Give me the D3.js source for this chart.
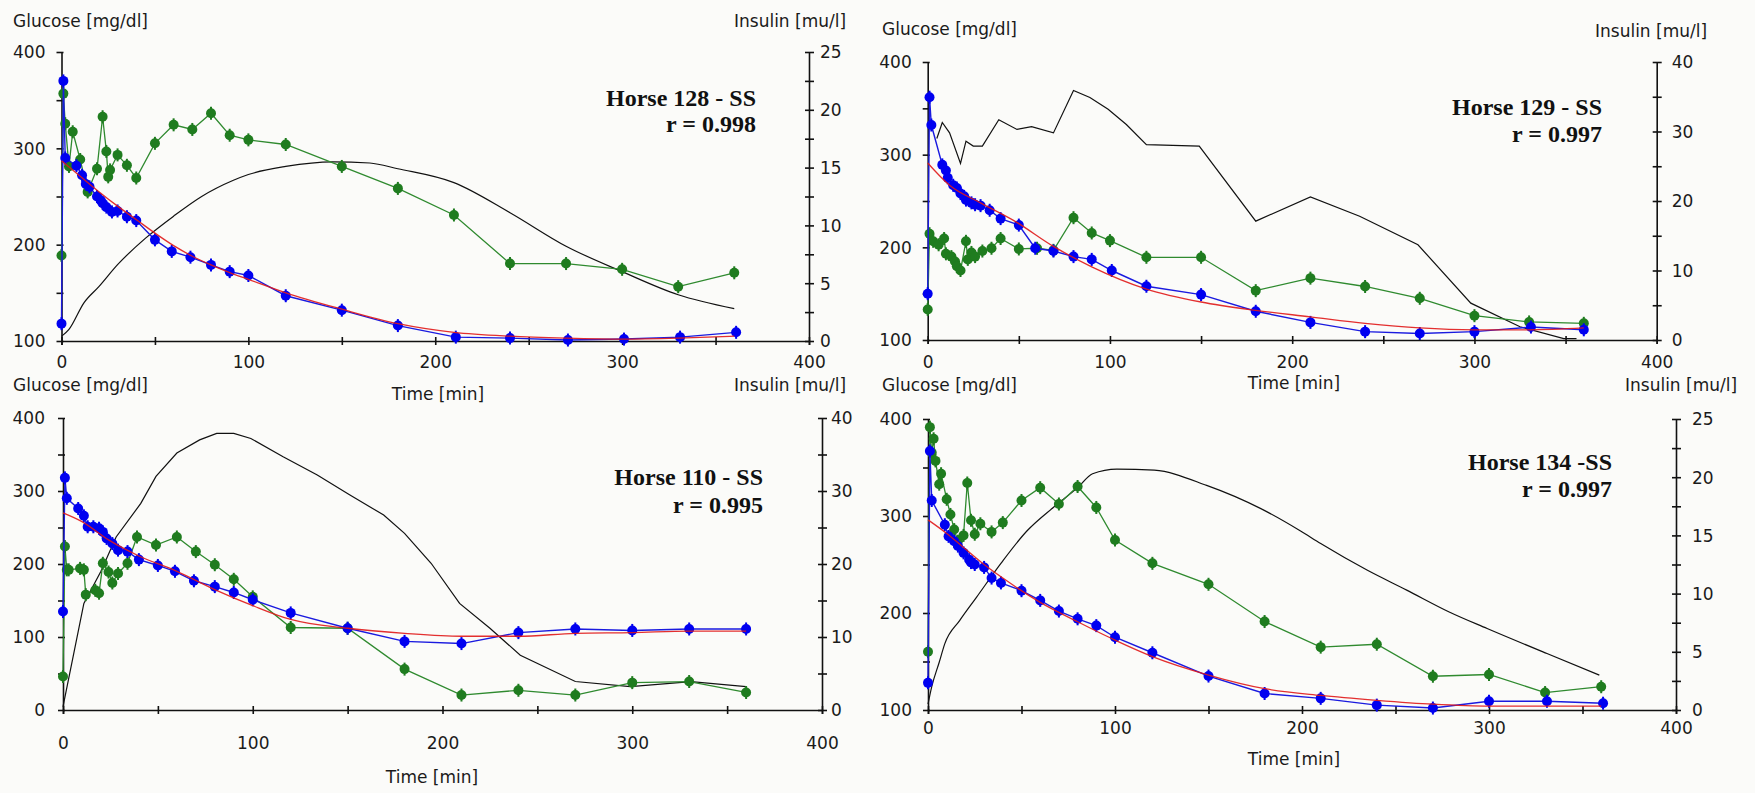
<!DOCTYPE html>
<html>
<head>
<meta charset="utf-8">
<script src="https://cdn.jsdelivr.net/npm/d3@7"></script>
<style>
  html, body { margin: 0; padding: 0; background: #fbfbf9; }
  svg { display: block; }
</style>
</head>
<body>
<svg id="chart" width="1755" height="793"></svg>
<script>
// ---------------- DATA ----------------
const horseTitles = ["Horse 128 - SS", "Horse 129 - SS", "Horse 110 - SS", "Horse 134 -SS"];
const rValues = ["r = 0.998", "r = 0.997", "r = 0.995", "r = 0.997"];
const timeTicks = [0, 50, 100, 150, 200, 250, 300, 350, 400];
const glucoseTicks100 = [100, 150, 200, 250, 300, 350, 400];
const glucoseTicks0 = [0, 50, 100, 150, 200, 250, 300, 350, 400];
const insulinTicks25 = [0, 2.5, 5, 7.5, 10, 12.5, 15, 17.5, 20, 22.5, 25];
const insulinTicks40 = [0, 5, 10, 15, 20, 25, 30, 35, 40];
const glucoseLabel = "Glucose [mg/dl]";
const insulinLabel = "Insulin [mu/l]";
const timeLabel = "Time [min]";

// Horse 128
const h128GreenT = [0,1,2,4,6,10,14,19,22,24,25,26,30,35,40,50,60,70,80,90,100,120,150,180,210,240,270,300,330,360];
const h128GreenI = [7.4,21.4,18.8,15.1,18.1,15.7,12.9,14.9,19.4,16.4,14.2,14.8,16.1,15.2,14.1,17.1,18.7,18.3,19.7,17.8,17.4,17.0,15.1,13.2,10.9,6.7,6.7,6.2,4.7,5.9];
const h128BlackT = [0,4,12,20,30,45,60,75,92,100,120,145,165,180,210,240,270,300,330,360];
const h128BlackI = [0.4,1.0,3.3,4.7,6.6,8.9,10.8,12.5,13.9,14.4,15.1,15.5,15.4,14.9,13.7,11.1,8.2,6.0,4.0,2.8];
const h128BlueT = [0,1,2,8,11,13,15,19,21,22,24,27,30,35,40,50,59,69,80,90,100,120,150,180,211,240,271,301,331,361];
const h128BlueG = [118,370,290,282,272,263,260,250,246,243,239,234,235,229,225,205,193,187,179,172,168,147,132,116,104,103,101,102,104,109];
const h128RedT = [0,10,20,30,40,50,60,70,80,90,100,120,150,180,210,240,270,300,330,360];
const h128RedG = [287,271,255,240,226,212,199,188,179,171,164,150,133,118,109,105,103,102,103,105];

// Horse 129
const h129GreenT = [0,1,3,6,9,10,13,15,16,18,21,22,24,26,30,35,40,50,60,69,80,90,100,120,150,180,210,240,270,300,330,360];
const h129GreenI = [4.4,15.3,14.2,13.7,14.6,12.4,12.0,11.3,10.6,10.0,14.2,11.6,12.6,12.0,12.8,13.2,14.6,13.1,13.2,12.9,17.6,15.4,14.3,11.9,11.9,7.1,8.9,7.7,6.0,3.5,2.6,2.4];
const h129BlackT = [5,8,12,18,21,25,30,39,49,57,69,80,89,99,109,120,149,180,210,237,269,298,325,349,356];
const h129BlackI = [29.0,31.3,29.8,25.4,28.6,27.9,27.9,31.7,30.3,30.7,29.8,35.9,34.9,33.2,31.0,28.1,27.9,17.1,20.6,17.8,13.7,5.3,1.9,0.2,0.2];
const h129BlueT = [0,1,2,8,10,11,14,16,18,20,21,24,26,29,34,40,50,59,69,80,90,101,120,150,180,210,240,270,300,331,360];
const h129BlueG = [150,362,332,289,283,275,267,264,258,255,251,248,246,245,240,231,224,199,196,190,187,175,158,149,131,119,109,107,109,114,111];
const h129RedT = [0,12,29,48,69,90,120,150,180,210,240,270,300,330,360];
const h129RedG = [291,267,248,228,201,179,155,141,132,125,118,113,111,111,113];

// Horse 110
const h110GreenT = [0,1,2,3,9,11,12,17,19,21,24,26,29,34,39,49,60,70,80,90,100,120,150,180,210,240,270,300,330,360];
const h110GreenI = [4.6,22.4,19.2,19.2,19.4,19.2,15.8,16.4,16.0,20.1,18.9,17.4,18.7,20.1,23.7,22.6,23.7,21.7,19.9,17.9,15.5,11.3,11.2,5.6,2.05,2.7,2.05,3.75,3.9,2.4];
const h110BlackT = [0,11,20,28,41,49,60,72,81,90,99,116,134,151,169,180,194,209,225,241,270,299,331,360];
const h110BlackI = [0.45,14.6,19.0,23.7,28.3,32.0,35.2,37.0,37.9,37.9,37.2,34.7,32.2,29.5,26.7,24.2,20.1,14.6,11.2,7.5,3.9,3.2,3.9,3.2];
const h110BlueT = [0,1,2,8,11,13,16,19,21,23,26,29,34,40,50,59,69,80,90,100,120,150,180,210,240,270,300,330,360];
const h110BlueG = [135,318,290,276,266,251,251,249,244,235,228,219,217,206,198,190,177,169,161,151,133,112,94,91,106,111,109,111,111];
const h110RedT = [0,10,24,40,60,80,100,120,150,180,210,240,270,300,330,360];
const h110RedG = [270,258,233,211,190,165,143,124,112,105,101,101,105,106,108,108];

// Horse 134
const h134GreenT = [0,1,2,3,4,6,7,10,12,14,16,19,21,23,25,28,34,40,50,60,70,80,90,100,120,150,180,210,240,270,300,330,360];
const h134GreenI = [5.0,24.3,22.1,23.3,21.4,19.4,20.3,18.1,16.8,15.5,14.5,15.0,19.5,16.3,15.1,16.0,15.3,16.1,18.0,19.1,17.7,19.2,17.4,14.6,12.6,10.8,7.6,5.4,5.65,2.9,3.05,1.5,2.0];
const h134BlackT = [0,2,6,9,17,26,39,53,67,80,88,101,121,149,178,199,210,235,256,279,299,331,359];
const h134BlackI = [0.5,2.0,4.1,5.7,7.7,9.7,12.6,15.4,17.4,19.1,20.3,20.7,20.6,19.3,17.3,15.4,14.3,12.0,10.3,8.4,7.0,4.85,3.0];
const h134BlueT = [0,1,2,9,11,14,16,19,22,23,25,30,34,39,50,60,70,80,90,100,120,150,180,210,240,270,300,331,361];
const h134BlueG = [128,367,316,291,279,274,269,262,255,252,250,247,236,231,223,213,202,194,187,175,159,135,117,112,105,102,109,109,107];
const h134RedT = [0,10,20,30,40,60,80,100,120,150,180,210,240,270,300,330,360];
const h134RedG = [296,282,266,250,236,211,191,172,155,136,122,115,110,106,104,104,104];

// ---------------- LAYOUT (positions / styles only) ----------------
const panels = [
  { xL: 61.5, xR: 809, yT: 52, yB: 341, gDom: [100, 400], gTicks: glucoseTicks100, iMax: 25, iTicks: insulinTicks25, iLab: 5,
    xLabDy: 21, leftGap: 16, rightGap: 11, titleX: 756, titleY: 106, rY: 132, smoothBlack: true,
    green: [h128GreenT, h128GreenI], black: [h128BlackT, h128BlackI], blue: [h128BlueT, h128BlueG], red: [h128RedT, h128RedG] },
  { xL: 927.7, xR: 1656.7, yT: 62, yB: 340, gDom: [100, 400], gTicks: glucoseTicks100, iMax: 40, iTicks: insulinTicks40, iLab: 10,
    xLabDy: 22, leftGap: 16, rightGap: 15, titleX: 1602, titleY: 115, rY: 142, smoothBlack: false,
    green: [h129GreenT, h129GreenI], black: [h129BlackT, h129BlackI], blue: [h129BlueT, h129BlueG], red: [h129RedT, h129RedG] },
  { xL: 63, xR: 822, yT: 418, yB: 710, gDom: [0, 400], gTicks: glucoseTicks0, iMax: 40, iTicks: insulinTicks40, iLab: 10,
    xLabDy: 33, leftGap: 18, rightGap: 9, titleX: 763, titleY: 485, rY: 513, smoothBlack: false,
    green: [h110GreenT, h110GreenI], black: [h110BlackT, h110BlackI], blue: [h110BlueT, h110BlueG], red: [h110RedT, h110RedG] },
  { xL: 928, xR: 1676, yT: 419, yB: 710, gDom: [100, 400], gTicks: glucoseTicks100, iMax: 25, iTicks: insulinTicks25, iLab: 5,
    xLabDy: 18, leftGap: 16, rightGap: 16, titleX: 1612, titleY: 470, rY: 497, smoothBlack: true,
    green: [h134GreenT, h134GreenI], black: [h134BlackT, h134BlackI], blue: [h134BlueT, h134BlueG], red: [h134RedT, h134RedG] }
];

const freeLabels = [
  { text: glucoseLabel, x: 13, y: 27, anchor: "start" },
  { text: glucoseLabel, x: 882, y: 35, anchor: "start" },
  { text: glucoseLabel, x: 13, y: 391, anchor: "start" },
  { text: glucoseLabel, x: 882, y: 391, anchor: "start" },
  { text: insulinLabel, x: 734, y: 27, anchor: "start" },
  { text: insulinLabel, x: 1595, y: 37, anchor: "start" },
  { text: insulinLabel, x: 734, y: 391, anchor: "start" },
  { text: insulinLabel, x: 1625, y: 391, anchor: "start" },
  { text: timeLabel, x: 438, y: 400, anchor: "middle" },
  { text: timeLabel, x: 1294, y: 389, anchor: "middle" },
  { text: timeLabel, x: 432, y: 783, anchor: "middle" },
  { text: timeLabel, x: 1294, y: 765, anchor: "middle" }
];

const COL = { green: "#1f7c1f", greenLine: "#2f8a2f", blue: "#0000f0", blueLine: "#1a1adf", red: "#e01818", black: "#111" };
const SANS = "'DejaVu Sans', sans-serif";
const SERIF = "'Liberation Serif', 'Times New Roman', serif";

// ---------------- DRAW ----------------
const svg = d3.select("#chart");
svg.append("rect").attr("width", 1755).attr("height", 793).attr("fill", "#fbfbf9");

function styleAxis(g) {
  g.attr("font-size", 17).attr("font-family", SANS);
  g.select(".domain").attr("stroke", "#111").attr("stroke-width", 1.6);
  g.selectAll(".tick line").attr("stroke", "#111").attr("stroke-width", 1.6);
  g.selectAll(".tick text").attr("fill", "#1a1a1a");
}

function drawPanel(P) {
  const x = d3.scaleLinear().domain([0, 400]).range([P.xL, P.xR]);
  const yG = d3.scaleLinear().domain(P.gDom).range([P.yB, P.yT]);
  const yI = d3.scaleLinear().domain([0, P.iMax]).range([P.yB, P.yT]);

  // axes
  const gx = svg.append("g").attr("transform", `translate(0,${P.yB})`)
    .call(d3.axisBottom(x).tickValues(timeTicks).tickFormat(d => d % 100 === 0 ? d : "").tickSizeOuter(0).tickSize(4));
  styleAxis(gx);
  gx.selectAll(".tick line").attr("y1", -4).attr("y2", 4);
  gx.selectAll(".tick text").attr("y", P.xLabDy).attr("dy", "0.35em");

  const gy = svg.append("g").attr("transform", `translate(${P.xL},0)`)
    .call(d3.axisLeft(yG).tickValues(P.gTicks).tickFormat(d => d % 100 === 0 ? d : "").tickSizeOuter(0));
  styleAxis(gy);
  gy.selectAll(".tick line").attr("x1", 2).attr("x2", -5);
  gy.selectAll(".tick text").attr("x", -P.leftGap).attr("dy", "0.35em");

  const gr = svg.append("g").attr("transform", `translate(${P.xR},0)`)
    .call(d3.axisRight(yI).tickValues(P.iTicks).tickFormat(d => d % P.iLab === 0 ? d : "").tickSizeOuter(0));
  styleAxis(gr);
  gr.selectAll(".tick line").attr("x1", -4).attr("x2", 5);
  gr.selectAll(".tick text").attr("x", P.rightGap).attr("dy", "0.35em");

  // black insulin curve
  const blackData = d3.zip(P.black[0], P.black[1]);
  svg.append("path").datum(blackData)
    .attr("fill", "none").attr("stroke", COL.black).attr("stroke-width", 1.2)
    .attr("d", d3.line().x(d => x(d[0])).y(d => yI(d[1])).curve(P.smoothBlack ? d3.curveMonotoneX : d3.curveLinear));

  // green insulin data
  const greenData = d3.zip(P.green[0], P.green[1]);
  svg.append("path").datum(greenData)
    .attr("fill", "none").attr("stroke", COL.greenLine).attr("stroke-width", 1.3)
    .attr("d", d3.line().x(d => x(d[0])).y(d => yI(d[1])));
  drawMarkers(greenData, x, yI, COL.green);

  // blue glucose data
  const blueData = d3.zip(P.blue[0], P.blue[1]);
  svg.append("path").datum(blueData)
    .attr("fill", "none").attr("stroke", COL.blueLine).attr("stroke-width", 1.4)
    .attr("d", d3.line().x(d => x(d[0])).y(d => yG(d[1])));
  drawMarkers(blueData, x, yG, COL.blue);

  // red glucose model
  const redData = d3.zip(P.red[0], P.red[1]);
  svg.append("path").datum(redData)
    .attr("fill", "none").attr("stroke", COL.red).attr("stroke-width", 1.3).attr("stroke-opacity", 0.9)
    .attr("d", d3.line().x(d => x(d[0])).y(d => yG(d[1])).curve(d3.curveMonotoneX));
}

function drawMarkers(data, x, y, color) {
  const g = svg.append("g");
  const m = g.selectAll("g").data(data).join("g")
    .attr("transform", d => `translate(${x(d[0])},${y(d[1])})`);
  m.append("line").attr("y1", -6.5).attr("y2", 6.5).attr("stroke", color).attr("stroke-width", 2);
  m.append("circle").attr("r", 5).attr("fill", color);
}

panels.forEach((P, i) => {
  drawPanel(P);
  svg.append("text").attr("x", P.titleX).attr("y", P.titleY).attr("text-anchor", "end")
    .attr("font-family", SERIF).attr("font-weight", "bold").attr("font-size", 24).attr("fill", "#111")
    .text(horseTitles[i]);
  svg.append("text").attr("x", P.titleX).attr("y", P.rY).attr("text-anchor", "end")
    .attr("font-family", SERIF).attr("font-weight", "bold").attr("font-size", 24).attr("fill", "#111")
    .text(rValues[i]);
});

svg.selectAll("text.free").data(freeLabels).join("text").attr("class", "free")
  .attr("x", d => d.x).attr("y", d => d.y).attr("text-anchor", d => d.anchor)
  .attr("font-family", SANS).attr("font-size", 17).attr("fill", "#1a1a1a")
  .text(d => d.text);
</script>
</body>
</html>
